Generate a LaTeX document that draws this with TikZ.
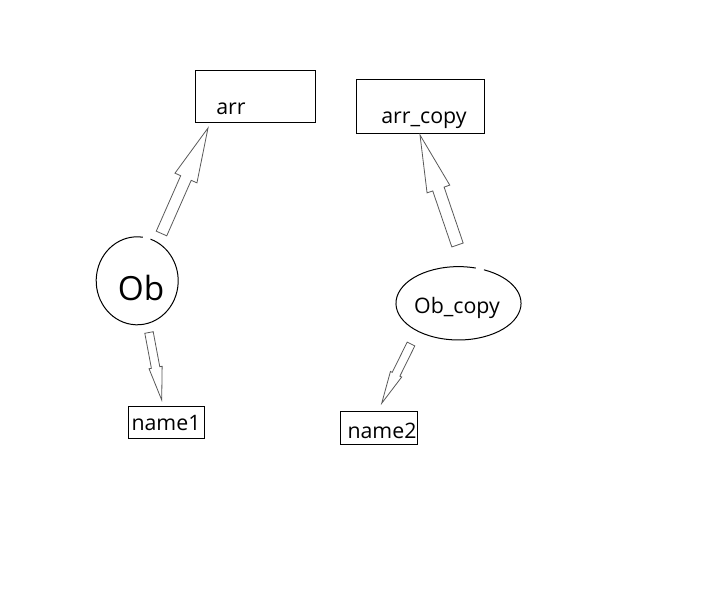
\documentclass[tikz,border=0pt]{standalone}
\usepackage{fontspec}
\setmainfont{Open Sans}
\usetikzlibrary{calc}

\tikzset{
  box/.style={draw, line width=0.75pt, inner sep=0pt},
  lbl/.style={anchor=base, inner sep=0pt, font=\fontsize{16}{19}\selectfont},
  biglbl/.style={anchor=base, inner sep=0pt, font=\fontsize{25}{29}\selectfont},
  hollow/.style={draw=black!65, line width=0.6pt, fill=white, line join=miter},
  outline/.style={line width=0.75pt}
}

% tail, tip, half shaft width, half head width, head length
\newcommand{\blockarrow}[5]{%
  \coordinate (#1-h) at ($(#2)!#5!(#1)$);
  \draw[hollow] ($(#1)!#3!90:(#2)$) -- ($(#1-h)!#3!90:(#2)$) -- ($(#1-h)!#4!90:(#2)$)
    -- (#2) -- ($(#1-h)!#4!-90:(#2)$) -- ($(#1-h)!#3!-90:(#2)$) -- ($(#1)!#3!-90:(#2)$) -- cycle;
}

\begin{document}
\begin{tikzpicture}[x=0.75pt,y=0.75pt]
\useasboundingbox (0,0) rectangle (710,-599);

\node[box, minimum width=90pt, minimum height=39pt] (arr) at (255,-97) {};
\node[lbl] (arrtext) at (231,-115) {arr};
\node[box, minimum width=96pt, minimum height=40.5pt] (arrcopy) at (420,-107) {};
\node[lbl] (arrcopytext) at (424,-124) {arr\_copy};

\node[inner sep=0pt, minimum size=62pt] (ob) at (137.2,-280.8) {};
\draw[outline] ([shift={(82:30.75pt and 33pt)}]ob.center) arc[start angle=82, end angle=431, x radius=30.75pt, y radius=33pt];
\node[biglbl] (obtext) at (141,-300) {Ob};

\node[inner sep=0pt, minimum width=94pt, minimum height=55pt] (obcopy) at (458.5,-303.3) {};
\draw[outline] ([shift={(74:46.9pt and 27.5pt)}]obcopy.center) arc[start angle=74, end angle=426, x radius=46.9pt, y radius=27.5pt];
\node[lbl] (obcopytext) at (457,-313) {Ob\_copy};

\node[box, minimum width=56.8pt, minimum height=23.7pt] (nameone) at (166.2,-422.5) {};
\node[lbl] (nameonetext) at (166,-430) {name1};
\node[box, minimum width=57.5pt, minimum height=25pt] (nametwo) at (379,-428.3) {};
\node[lbl] (nametwotext) at (382,-438) {name2};

\coordinate (ob-tail) at (161.5,-233.5);
\coordinate (arr-tip) at (208,-128);
\coordinate (obcopy-tail) at (457.5,-245);
\coordinate (arrcopy-tip) at (420,-135);
\coordinate (ob-low) at (149,-332.5);
\coordinate (nameone-tip) at (161.7,-400);
\coordinate (obcopy-low) at (411,-344);
\coordinate (nametwo-tip) at (381.7,-403.3);

\blockarrow{ob-tail}{arr-tip}{4.3pt}{9pt}{41pt}
\blockarrow{obcopy-tail}{arrcopy-tip}{4.5pt}{9pt}{42.8pt}
\blockarrow{ob-low}{nameone-tip}{3.2pt}{5pt}{24.8pt}
\blockarrow{obcopy-low}{nametwo-tip}{3.2pt}{4.7pt}{24.3pt}
\end{tikzpicture}
\end{document}
